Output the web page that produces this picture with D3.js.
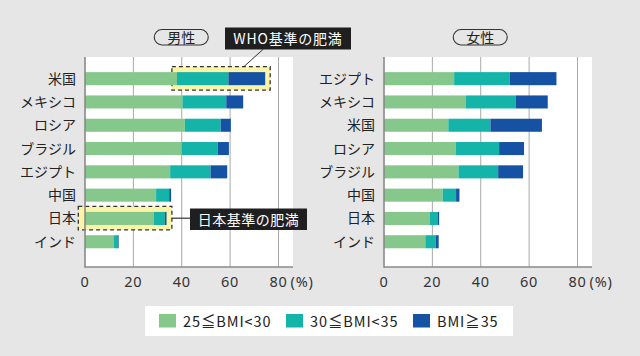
<!DOCTYPE html>
<html><head><meta charset="utf-8">
<script src="https://cdn.jsdelivr.net/npm/d3@7"></script>
<style>
html,body{margin:0;padding:0;background:#e6e6e7;}
svg{display:block;font-family:"Noto Sans CJK JP","Noto Sans",sans-serif;}
</style></head><body>
<svg id="c" width="640" height="356"></svg>
<script>
const seriesKeys = ["b25", "b30", "b35"];
const seriesLabels = ["25≦BMI<30", "30≦BMI<35", "BMI≧35"];
const colors = ["#86c88b", "#14b4a8", "#1552a3"];
const tickValues = [0, 20, 40, 60, 80];

const maleCountries = ["米国", "メキシコ", "ロシア", "ブラジル", "エジプト", "中国", "日本", "インド"];
const male25 = [38.0, 40.3, 41.3, 40.0, 35.2, 29.4, 28.4, 12.0];
const male30 = [21.3, 18.1, 14.8, 14.9, 16.7, 5.4, 4.6, 1.4];
const male35 = [15.2, 7.0, 4.2, 4.6, 6.9, 0.8, 0.7, 0.5];

const femaleCountries = ["エジプト", "メキシコ", "米国", "ロシア", "ブラジル", "中国", "日本", "インド"];
const female25 = [29.0, 33.9, 26.6, 29.7, 30.8, 24.3, 19.0, 17.1];
const female30 = [23.0, 20.5, 17.4, 17.9, 16.4, 5.5, 3.1, 4.3];
const female35 = [19.3, 13.3, 21.3, 10.3, 10.3, 1.4, 0.7, 1.2];

const svg = d3.select("#c");
const plotW = 208, plotTop = 57, plotBottom = 267;

function makeRows(cs, a, b, c) {
  return cs.map((name, i) => ({name, b25: a[i], b30: b[i], b35: c[i]}));
}

function drawPanel(x0, rows, title, annotate) {
  const g = svg.append("g").attr("transform", `translate(${x0},0)`);
  const x = d3.scaleLinear().domain([0, 86]).range([0, plotW]);
  const y = d3.scaleBand().domain(rows.map(d => d.name)).range([67, 67 + 23.3 * 8]).paddingInner(0.44).paddingOuter(0.22);

  g.append("rect").attr("x", 0).attr("y", plotTop).attr("width", plotW).attr("height", plotBottom - plotTop).attr("fill", "#fff");

  g.selectAll("line.grid").data(tickValues.filter(t => t > 0)).join("line")
    .attr("x1", d => x(d)).attr("x2", d => x(d)).attr("y1", plotTop).attr("y2", plotBottom)
    .attr("stroke", "#a8a8a8").attr("stroke-width", 1);

  const stacked = d3.stack().keys(seriesKeys)(rows);

  let extra = null;
  if (annotate) extra = annotate(g, x, y, rows);

  stacked.forEach((s, i) => {
    g.append("g").selectAll("rect").data(s).join("rect")
      .attr("x", d => x(d[0])).attr("width", d => x(d[1]) - x(d[0]))
      .attr("y", d => y(d.data.name)).attr("height", y.bandwidth())
      .attr("fill", colors[i]);
  });

  g.append("line").attr("x1", 0).attr("x2", 0).attr("y1", plotTop).attr("y2", plotBottom + 0.75).attr("stroke", "#8a8a8a").attr("stroke-width", 1.6);
  g.append("line").attr("x1", 0).attr("x2", plotW).attr("y1", plotBottom).attr("y2", plotBottom).attr("stroke", "#8a8a8a").attr("stroke-width", 1.6);

  g.selectAll("text.tick").data(tickValues).join("text")
    .attr("x", d => x(d)).attr("y", 287).attr("text-anchor", "middle")
    .attr("font-size", 14.5).attr("letter-spacing", 0.8).attr("fill", "#333").attr("font-family", "'Noto Sans',sans-serif").text(d => d);
  g.append("text").attr("x", x(80) + 12).attr("y", 287).attr("font-size", 14.5).attr("letter-spacing", 0.8).attr("fill", "#333")
    .attr("font-family", "'Noto Sans',sans-serif").text("(%)");

  g.selectAll("text.cat").data(rows).join("text")
    .attr("x", -9).attr("y", d => y(d.name) + y.bandwidth() / 2 + 5)
    .attr("text-anchor", "end").attr("font-size", 14).attr("fill", "#222").text(d => d.name);

  const pw = 54;
  const pcx = x(40) - 0.5;
  g.append("rect").attr("x", pcx - pw / 2).attr("y", 29.5).attr("width", pw).attr("height", 15.5)
    .attr("rx", 7.75).attr("fill", "none").attr("stroke", "#333").attr("stroke-width", 1.1);
  g.append("text").attr("x", pcx).attr("y", 42.5).attr("text-anchor", "middle")
    .attr("font-size", 14).attr("fill", "#222").text(title);
  return extra;
}

const maleRows = makeRows(maleCountries, male25, male30, male35);
const femaleRows = makeRows(femaleCountries, female25, female30, female35);

const boxes = drawPanel(85, maleRows, "男性", (g, x, y, rows) => {
  const us = rows[0];
  const bx0 = x(us.b25) - 5, bx1 = x(us.b25 + us.b30 + us.b35) + 5;
  const by0 = y(us.name) - 5.5, by1 = y(us.name) + y.bandwidth() + 5;
  g.append("rect").attr("x", bx0).attr("y", by0).attr("width", bx1 - bx0).attr("height", by1 - by0)
    .attr("fill", "#fbf3a6").attr("stroke", "#333").attr("stroke-width", 1.3).attr("stroke-dasharray", "4,3");
  const jp = rows[6];
  const jx0 = -6.7, jx1 = x(jp.b25 + jp.b30 + jp.b35) + 5.4;
  const jy0 = y(jp.name) - 5.5, jy1 = y(jp.name) + y.bandwidth() + 5;
  g.append("rect").attr("x", jx0).attr("y", jy0).attr("width", jx1 - jx0).attr("height", jy1 - jy0)
    .attr("fill", "#fbf3a6").attr("stroke", "#333").attr("stroke-width", 1.3).attr("stroke-dasharray", "4,3");
  return {bx0, by0, bx1, by1, jx0, jy0, jx1, jy1};
});
drawPanel(384, femaleRows, "女性", null);

// callouts
const callouts = svg.append("g");
const ox = 85;
callouts.append("line").attr("x1", ox + boxes.bx0 + 72).attr("y1", boxes.by0).attr("x2", ox + boxes.bx0 + 91.5).attr("y2", 49)
  .attr("stroke", "#333").attr("stroke-width", 1);
callouts.append("rect").attr("x", 225).attr("y", 27.5).attr("width", 126).attr("height", 22).attr("fill", "#1f1f1f");
callouts.append("text").attr("x", 288).attr("y", 43.5).attr("text-anchor", "middle").attr("font-size", 14)
  .attr("fill", "#fff").attr("letter-spacing", 0.8).text("WHO基準の肥満");
const jy = (boxes.jy0 + boxes.jy1) / 2;
callouts.append("line").attr("x1", ox + boxes.jx1).attr("y1", jy).attr("x2", 190).attr("y2", jy)
  .attr("stroke", "#333").attr("stroke-width", 1.2);
callouts.append("rect").attr("x", 190).attr("y", 208.5).attr("width", 117).attr("height", 21.5).attr("fill", "#1f1f1f");
callouts.append("text").attr("x", 248.5).attr("y", 224.5).attr("text-anchor", "middle").attr("font-size", 14)
  .attr("fill", "#fff").attr("letter-spacing", 0.5).text("日本基準の肥満");

// legend
const lg = svg.append("g");
lg.append("rect").attr("x", 145).attr("y", 306).attr("width", 368).attr("height", 30).attr("fill", "#fff");
const legX = [159, 286, 413];
seriesLabels.forEach((lab, i) => {
  lg.append("rect").attr("x", legX[i]).attr("y", 314).attr("width", 17).attr("height", 13.5).attr("fill", colors[i]);
  lg.append("text").attr("x", legX[i] + 24).attr("y", 326.5).attr("font-size", 14.5).attr("letter-spacing", 0.9).attr("fill", "#222")
    .attr("font-family", "'Noto Sans CJK JP','Noto Sans',sans-serif").text(lab);
});
</script>
</body></html>
